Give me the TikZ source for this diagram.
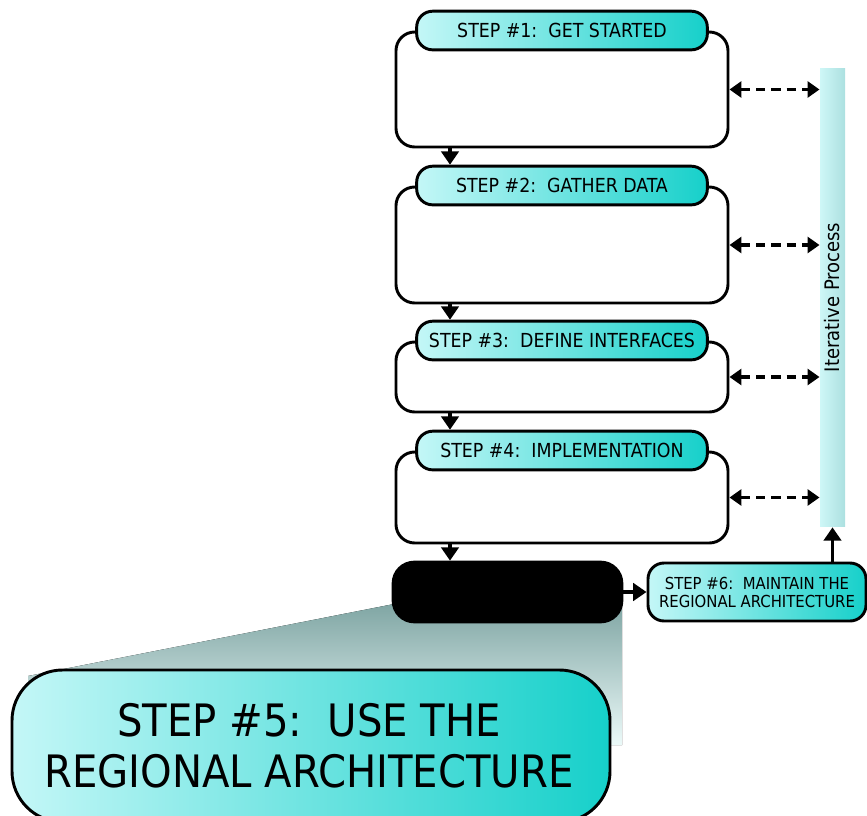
\documentclass[tikz,border=0pt]{standalone}
\usepackage{fontspec}
\setmainfont{DejaVu Sans Condensed}
\usetikzlibrary{arrows.meta}
\definecolor{pillLight}{RGB}{196,247,247}
\definecolor{pillDark}{RGB}{22,208,202}
\definecolor{barLight}{RGB}{206,247,247}
\definecolor{barDark}{RGB}{172,224,224}
\definecolor{spotTop}{RGB}{128,166,164}
\definecolor{spotBot}{RGB}{236,250,249}
\tikzset{every picture/.style={line width=0.75pt}}
\tikzset{
	stepbox/.style={draw, line width=2.2pt, rounded corners=14pt, fill=white, inner sep=0pt, minimum width=249pt},
	headpill/.style={draw, line width=2.2pt, rounded corners=12pt, left color=pillLight, right color=pillDark, inner sep=0pt, minimum width=218pt, minimum height=29pt, font=\fontsize{14.5}{15}\selectfont},
	flow/.style={line width=2.5pt, -{Triangle[length=10pt,width=13pt]}},
	loopback/.style={line width=2.5pt, dash pattern=on 7pt off 4.5pt, {Triangle[length=9pt,width=12pt]}-{Triangle[length=9pt,width=12pt]}}
}

\begin{document}
\begin{tikzpicture}[x=0.75pt,y=0.75pt,yscale=-1,xscale=1]
	\useasboundingbox (0,0) rectangle (867,816);

	%Shape: Spotlight
	\fill [top color=spotTop, bottom color=spotBot] (394,604) -- (622,604) -- (622,745) -- (28,745) -- (28,676) -- cycle ;

	%Shape: Step Boxes
	\node [stepbox, minimum height=86.25pt] (box1) at (562,89.5) {};
	\node [headpill] (head1) at (box1.north) {STEP \#1:\ \ GET STARTED};
	\node [stepbox, minimum height=87pt] (box2) at (562,245) {};
	\node [headpill] (head2) at (box2.north) {STEP \#2:\ \ GATHER DATA};
	\node [stepbox, minimum height=52.5pt] (box3) at (562,377) {};
	\node [headpill] (head3) at (box3.north) {STEP \#3:\ \ DEFINE INTERFACES};
	\node [stepbox, minimum height=68.25pt] (box4) at (562,497.5) {};
	\node [headpill] (head4) at (box4.north) {STEP \#4:\ \ IMPLEMENTATION};

	%Shape: Black Box
	\node [draw, line width=2pt, fill=black, rounded corners=16pt, minimum width=171.75pt, minimum height=45pt] (usebox) at (507.5,592) {};

	%Shape: Iterative Bar
	\node [left color=barLight, right color=barDark, inner sep=0pt, minimum width=18.75pt, minimum height=344pt] (bar) at (832.5,297.5) {};
	% Text Node
	\node [rotate=90, font=\fontsize{15}{16}\selectfont] (iterlbl) at (bar) {Iterative Process};

	%Shape: Step 6
	\node [headpill, rounded corners=12pt, minimum width=163.5pt, minimum height=43.5pt, align=center, font=\fontsize{12.4}{13.5}\selectfont] (maint) at (757,592) {STEP \#6:\ \ MAINTAIN THE\\REGIONAL ARCHITECTURE};

	%Shape: Step 5
	\node [headpill, rounded corners=38pt, minimum width=448.5pt, minimum height=114pt] (usepill) at (311,746) {};
	% Text Node
	\node [align=center, font=\fontsize{33.5}{38}\selectfont] (usetext) at (309,746) {STEP \#5:\ \ USE THE\\REGIONAL ARCHITECTURE};

	%Straight Lines
	\coordinate (downx) at (450,0);
	\draw [flow] (box1.south -| downx) -- (head2.north -| downx) ;
	\draw [flow] (box2.south -| downx) -- (head3.north -| downx) ;
	\draw [flow] (box3.south -| downx) -- (head4.north -| downx) ;
	\draw [flow] (box4.south -| downx) -- (usebox.north -| downx) ;
	\draw [flow] (usebox.east) -- (maint.west) ;
	\draw [flow] (maint.north -| bar) -- (bar.south) ;

	%Dashed Lines
	\draw [loopback] (box1.east) -- (box1.east -| bar.west) ;
	\draw [loopback] (box2.east) -- (box2.east -| bar.west) ;
	\draw [loopback] (box3.east) -- (box3.east -| bar.west) ;
	\draw [loopback] (box4.east) -- (box4.east -| bar.west) ;

\end{tikzpicture}
\end{document}
